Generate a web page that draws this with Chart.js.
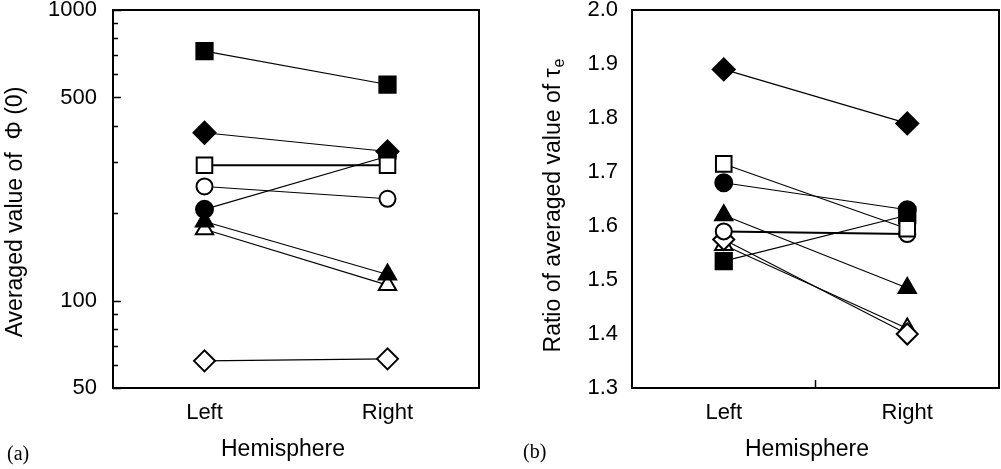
<!DOCTYPE html>
<html>
<head>
<meta charset="utf-8">
<script src="https://cdn.jsdelivr.net/npm/chart.js@4.4.1/dist/chart.umd.min.js"></script>
<style>
  body { margin: 0; background: #fff; }
  canvas { position: absolute; top: 0; }
  #panelA { left: 0; }
  #panelB { left: 520px; }
</style>
</head>
<body>
<canvas id="panelA" width="520" height="469"></canvas>
<canvas id="panelB" width="481" height="469"></canvas>
<script>
var hemispheres = ["Left", "Right"];

// (a) averaged value of Phi(0), per subject
var phiFilledSquare   = [722, 554];
var phiFilledDiamond  = [378, 326];
var phiOpenSquare     = [292, 292];
var phiOpenCircle     = [247, 224];
var phiFilledCircle   = [206, 314];
var phiFilledTriangle = [187, 123];
var phiOpenTriangle   = [176, 113];
var phiOpenDiamond    = [62, 63];

// (b) ratio of averaged value of tau_e, per subject
var tauFilledSquare   = [1.535, 1.62];
var tauFilledDiamond  = [1.89, 1.79];
var tauOpenSquare     = [1.715, 1.595];
var tauOpenCircle     = [1.59, 1.585];
var tauFilledCircle   = [1.68, 1.63];
var tauFilledTriangle = [1.62, 1.485];
var tauOpenTriangle   = [1.565, 1.41];
var tauOpenDiamond    = [1.575, 1.40];

var phiTickLabels = [50, 100, 500, 1000];
var phiMinorTicks = [60, 70, 80, 90, 200, 300, 400, 600, 700, 800, 900];
var tauTickLabels = [1.3, 1.4, 1.5, 1.6, 1.7, 1.8, 1.9, 2.0];

var markers = {
    filledSquare:   { style: "rect",     fill: true,  r: 11.5 },
    openSquare:     { style: "rect",     fill: false, r: 11 },
    filledDiamond:  { style: "rectRot",  fill: true,  r: 11 },
    openDiamond:    { style: "rectRot",  fill: false, r: 10.5 },
    filledCircle:   { style: "circle",   fill: true,  r: 8.5 },
    openCircle:     { style: "circle",   fill: false, r: 8 },
    filledTriangle: { style: "triangle", fill: true,  r: 10 },
    openTriangle:   { style: "triangle", fill: false, r: 10 }
};

var FONT = "'Liberation Sans', Arial, sans-serif";

// one line dataset (drawn underneath) plus one marker dataset per subject
function buildDatasets(series, stack, thick) {
    var sets = [];
    Object.keys(series).forEach(function (name) {
        var m = markers[name];
        sets.push({
            data: series[name],
            showLine: true,
            borderColor: "#000",
            borderWidth: name === thick ? 2 : 1.1,
            pointRadius: 0,
            pointHoverRadius: 0,
            order: 100
        });
        sets.push({
            data: series[name],
            showLine: false,
            pointStyle: m.style,
            pointRadius: m.r,
            pointHoverRadius: m.r,
            pointBorderWidth: 2,
            pointBorderColor: "#000",
            pointBackgroundColor: m.fill ? "#000" : "#fff",
            order: stack.indexOf(name) + 1
        });
    });
    return sets;
}

// box around the plot, inward ticks and the hand-placed titles
var framePlugin = {
    id: "frame",
    afterDraw: function (chart, args, opts) {
        var ctx = chart.ctx, a = chart.chartArea;
        var ys = chart.scales.y, xs = chart.scales.x;
        ctx.save();
        ctx.strokeStyle = "#000";
        ctx.lineWidth = 2;
        ctx.strokeRect(a.left, a.top, a.right - a.left, a.bottom - a.top);

        ctx.lineWidth = 1.5;
        ctx.beginPath();
        (opts.major || []).forEach(function (v) {
            var y = Math.round(ys.getPixelForValue(v)) + 0.5;
            ctx.moveTo(a.left, y); ctx.lineTo(a.left + 8, y);
        });
        (opts.minor || []).forEach(function (v) {
            var y = Math.round(ys.getPixelForValue(v)) + 0.5;
            ctx.moveTo(a.left, y); ctx.lineTo(a.left + 5, y);
        });
        if (opts.midTick) {
            var mx = (xs.getPixelForValue(0) + xs.getPixelForValue(1)) / 2;
            ctx.moveTo(mx, a.bottom); ctx.lineTo(mx, a.bottom - 8);
        }
        ctx.stroke();

        ctx.fillStyle = "#000";
        ctx.textBaseline = "middle";
        ctx.textAlign = "center";
        ctx.font = "23px " + FONT;
        ctx.fillText(opts.xTitle, opts.xTitleAt[0], opts.xTitleAt[1]);

        // rotated y title, with optional subscript
        ctx.save();
        ctx.translate(opts.yTitleAt[0], opts.yTitleAt[1]);
        ctx.rotate(-Math.PI / 2);
        ctx.textAlign = "left";
        ctx.font = "23px " + FONT;
        var w = ctx.measureText(opts.yTitle).width;
        var ws = 0;
        if (opts.ySub) {
            ctx.font = "16px " + FONT;
            ws = ctx.measureText(opts.ySub).width;
        }
        ctx.font = "23px " + FONT;
        var x0 = -(w + ws) / 2;
        ctx.fillText(opts.yTitle, x0, 0);
        if (opts.ySub) {
            ctx.font = "16px " + FONT;
            ctx.fillText(opts.ySub, x0 + w + 1, 6);
        }
        ctx.restore();

        ctx.font = "20px 'Liberation Serif', 'Times New Roman', serif";
        ctx.textAlign = "left";
        ctx.fillText(opts.panel, opts.panelAt[0], opts.panelAt[1]);
        ctx.restore();
    }
};

var tickFont = { family: FONT, size: 22 };

// fixed axis boxes so the plot area lands where it should
function fixX(s) { s.height = 81; s.paddingLeft = 0; s.paddingRight = 0; }
function fixY(width) {
    return function (s) { s.width = width; s.paddingTop = 0; s.paddingBottom = 0; };
}

new Chart(document.getElementById("panelA"), {
    type: "line",
    data: {
        labels: hemispheres,
        datasets: buildDatasets({
            filledSquare: phiFilledSquare,
            filledDiamond: phiFilledDiamond,
            openSquare: phiOpenSquare,
            openCircle: phiOpenCircle,
            filledCircle: phiFilledCircle,
            filledTriangle: phiFilledTriangle,
            openTriangle: phiOpenTriangle,
            openDiamond: phiOpenDiamond
        }, ["openSquare", "filledDiamond", "openCircle", "filledCircle",
            "filledTriangle", "openTriangle", "filledSquare", "openDiamond"], "openSquare")
    },
    options: {
        responsive: false,
        animation: false,
        devicePixelRatio: 1,
        layout: { autoPadding: false, padding: { left: 0, right: 41, top: 10, bottom: 0 } },
        plugins: {
            legend: { display: false },
            tooltip: { enabled: false },
            frame: {
                major: phiTickLabels, minor: phiMinorTicks, midTick: false,
                xTitle: "Hemisphere", xTitleAt: [283, 450],
                yTitle: "Averaged value of  \u03A6 (0)", yTitleAt: [16, 212],
                panel: "(a)", panelAt: [7, 455]
            }
        },
        scales: {
            x: {
                offset: true,
                grid: { display: false, drawTicks: false },
                border: { display: false },
                ticks: { font: tickFont, color: "#000", padding: 12 },
                afterFit: fixX
            },
            y: {
                type: "logarithmic",
                min: 50, max: 1000,
                grid: { display: false, drawTicks: false },
                border: { display: false },
                afterBuildTicks: function (s) {
                    s.ticks = phiTickLabels.map(function (v) { return { value: v }; });
                },
                ticks: { font: tickFont, color: "#000", padding: 16,
                         callback: function (v) { return String(v); } },
                afterFit: fixY(113)
            }
        }
    },
    plugins: [framePlugin]
});

new Chart(document.getElementById("panelB"), {
    type: "line",
    data: {
        labels: hemispheres,
        datasets: buildDatasets({
            filledSquare: tauFilledSquare,
            filledDiamond: tauFilledDiamond,
            openSquare: tauOpenSquare,
            openCircle: tauOpenCircle,
            filledCircle: tauFilledCircle,
            filledTriangle: tauFilledTriangle,
            openTriangle: tauOpenTriangle,
            openDiamond: tauOpenDiamond
        }, ["filledCircle", "openSquare", "openCircle", "openDiamond",
            "openTriangle", "filledTriangle", "filledSquare", "filledDiamond"], "openCircle")
    },
    options: {
        responsive: false,
        animation: false,
        devicePixelRatio: 1,
        layout: { autoPadding: false, padding: { left: 0, right: 2, top: 10, bottom: 0 } },
        plugins: {
            legend: { display: false },
            tooltip: { enabled: false },
            frame: {
                midTick: true,
                xTitle: "Hemisphere", xTitleAt: [287, 450],
                yTitle: "Ratio of averaged value of \u03C4", ySub: "e", yTitleAt: [34, 206],
                panel: "(b)", panelAt: [3, 453]
            }
        },
        scales: {
            x: {
                offset: true,
                grid: { display: false, drawTicks: false },
                border: { display: false },
                ticks: { font: tickFont, color: "#000", padding: 12 },
                afterFit: fixX
            },
            y: {
                min: 1.3, max: 2.0,
                grid: { display: false, drawTicks: false },
                border: { display: false },
                afterBuildTicks: function (s) {
                    s.ticks = tauTickLabels.map(function (v) { return { value: v }; });
                },
                ticks: { font: tickFont, color: "#000", padding: 14,
                         callback: function (v) { return v.toFixed(1); } },
                afterFit: fixY(112)
            }
        }
    },
    plugins: [framePlugin]
});
</script>
</body>
</html>
